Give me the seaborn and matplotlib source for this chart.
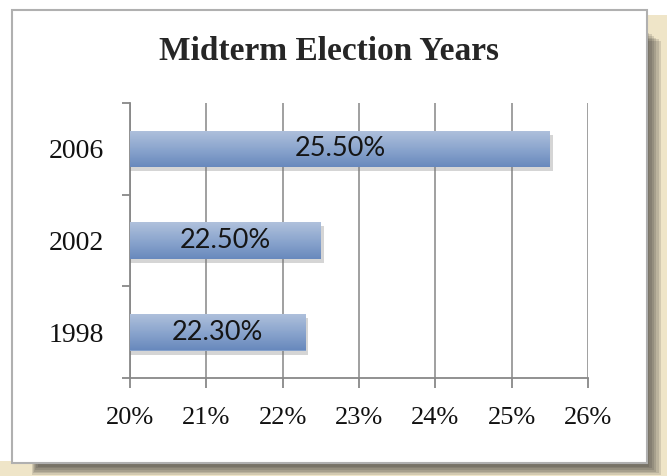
import numpy as np
import pandas as pd
import matplotlib
matplotlib.use("Agg")
import matplotlib.pyplot as plt
import matplotlib.patheffects as pe
from matplotlib.patches import Rectangle
import seaborn as sns

# ── data ──────────────────────────────────────────────────────────
years = ["2006", "2002", "1998"]
turnout = [25.5, 22.5, 22.3]
bar_labels = ["25.50%", "22.50%", "22.30%"]
x_ticks = [20, 21, 22, 23, 24, 25, 26]
x_ticklabels = ["20%", "21%", "22%", "23%", "24%", "25%", "26%"]
X_MIN, X_MAX = 20, 26

df = pd.DataFrame({"year": years, "turnout": turnout})

sns.set_style("white")
plt.rcParams["font.family"] = ["Liberation Serif", "DejaVu Serif"]

fig = plt.figure(figsize=(6.67, 4.76), dpi=100)
fig.patch.set_facecolor("white")

# ── frame, shadow, background ─────────────────────────────────────
bx0, by0 = 12 / 667, 1 - 463 / 476
bx1, by1 = 647 / 667, 1 - 10 / 476
fig.patches.append(Rectangle((0, 0), 1, by0 + 0.005, transform=fig.transFigure,
                             facecolor="#efe5c8", edgecolor="none", zorder=0))
fig.patches.append(Rectangle((bx1 - 0.005, 0), 1 - bx1 + 0.005, by1 - 0.01,
                             transform=fig.transFigure, facecolor="#efe5c8",
                             edgecolor="none", zorder=0))
for k in range(6):
    off = (6 - k) * 0.0035
    fig.patches.append(Rectangle((bx0 + 0.04 - off * 0.5, by0 - 0.004 - off),
                                 bx1 - bx0 - 0.04 + off * 1.5, by1 - by0 - 0.04,
                                 transform=fig.transFigure, facecolor="#2a2a2a",
                                 alpha=0.14, edgecolor="none", zorder=1))
fig.patches.append(Rectangle((bx0, by0), bx1 - bx0, by1 - by0, transform=fig.transFigure,
                             facecolor="white", edgecolor="#b0b0b0", linewidth=1.5, zorder=2))

# ── chart ─────────────────────────────────────────────────────────
ax = fig.add_axes([130 / 667, 1 - 378 / 476, (588 - 130) / 667, (378 - 103) / 476])
ax.set_zorder(3)
ax.patch.set_alpha(0)

sns.barplot(data=df, x="turnout", y="year", order=years, orient="h",
            color="#86a2cc", width=0.4, saturation=1, ax=ax, zorder=3)

grad = np.linspace(0, 1, 64).reshape(-1, 1)
cmap = matplotlib.colors.LinearSegmentedColormap.from_list(
    "bar", ["#b0c1dc", "#8ca6ce", "#6889bd"])
for p in ax.patches:
    x0, y0 = p.get_x(), p.get_y()
    w, h = p.get_width(), p.get_height()
    p.set_edgecolor("none")
    p.set_path_effects([pe.SimplePatchShadow(offset=(2, -3), shadow_rgbFace="#777777", alpha=0.3),
                        pe.Normal()])
    im = ax.imshow(grad, extent=(max(x0, X_MIN), x0 + w, y0 + h, y0), cmap=cmap,
                   aspect="auto", zorder=4, interpolation="bilinear")
    im.set_clip_path(p)

for i, (v, lab) in enumerate(zip(turnout, bar_labels)):
    ax.text((X_MIN + v) / 2, i, lab, ha="center", va="center", fontsize=19.5,
            family=["Lato", "DejaVu Sans"], color="#151515", zorder=6)

ax.set_xlim(X_MIN, X_MAX)
ax.set_ylim(2.5, -0.5)
ax.set_xticks(x_ticks)
ax.set_xticklabels(x_ticklabels, fontsize=19, color="#111111")
ax.set_yticks(range(len(years)))
ax.set_yticklabels(years, fontsize=20, color="#111111")
ax.set_yticks([-0.5, 0.5, 1.5, 2.5], minor=True)
ax.tick_params(left=True, bottom=True, which="both")
ax.tick_params(axis="y", which="major", length=0, pad=19)
ax.tick_params(axis="y", which="minor", length=6, color="#888888", width=1.3)
ax.tick_params(axis="x", length=7, color="#888888", width=1.3, pad=14, direction="out")
ax.xaxis.grid(True, color="#999999", linewidth=1.3)
ax.set_axisbelow(True)
ax.set_xlabel("")
ax.set_ylabel("")
sns.despine(ax=ax, top=True, right=True)
for s in ["left", "bottom"]:
    ax.spines[s].set_color("#888888")
    ax.spines[s].set_linewidth(1.3)

fig.text(0.493, 1 - 52 / 476, "Midterm Election Years", ha="center", va="center",
         fontsize=24, fontweight="bold", zorder=5)

fig.savefig("out.png", dpi=100)
